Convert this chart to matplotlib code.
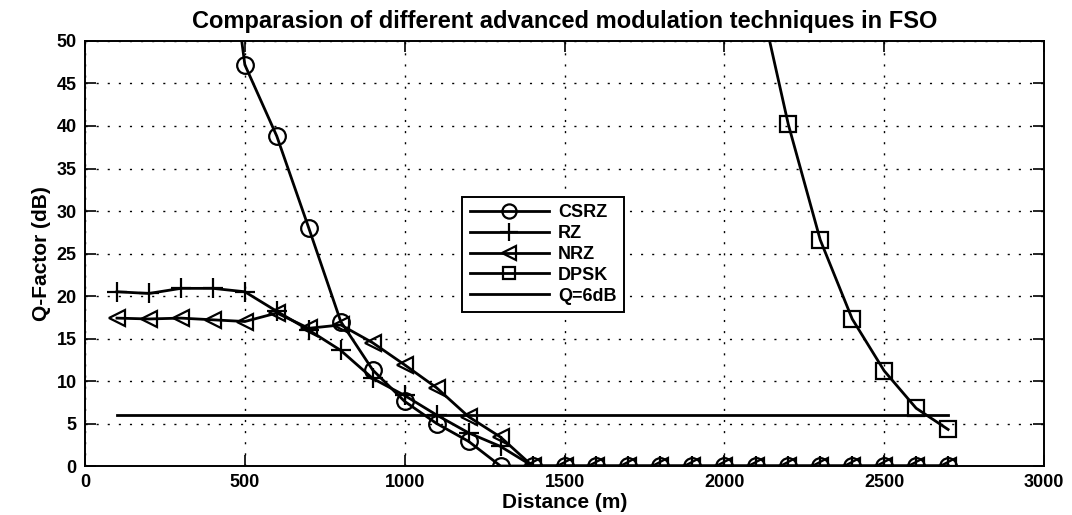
import numpy as np
import matplotlib.pyplot as plt

# Distances (m)
dist_csrz = [100, 200, 300, 400, 500, 600, 700, 800, 900, 1000, 1100, 1200, 1300,
             1400, 1500, 1600, 1700, 1800, 1900, 2000, 2100, 2200, 2300, 2400, 2500, 2600, 2700]
q_csrz = [130, 110, 95, 76, 47.2, 38.8, 28.0, 17.0, 11.3, 7.6, 5.0, 2.9, 0.0,
          0, 0, 0, 0, 0, 0, 0, 0, 0, 0, 0, 0, 0, 0]

dist_rz = [100, 200, 300, 400, 500, 600, 700, 800, 900, 1000, 1100, 1200, 1300,
           1400, 1500, 1600, 1700, 1800, 1900, 2000, 2100, 2200, 2300, 2400, 2500, 2600, 2700]
q_rz = [20.5, 20.3, 20.9, 20.9, 20.5, 18.2, 16.0, 13.6, 10.3, 8.3, 6.0, 3.9, 2.3,
        0, 0, 0, 0, 0, 0, 0, 0, 0, 0, 0, 0, 0, 0]

dist_nrz = dist_rz
q_nrz = [17.4, 17.3, 17.4, 17.2, 17.0, 18.0, 16.2, 16.6, 14.5, 11.9, 9.2, 5.8, 3.4,
         0, 0, 0, 0, 0, 0, 0, 0, 0, 0, 0, 0, 0, 0]

dist_dpsk = [2000, 2100, 2200, 2300, 2400, 2500, 2600, 2700]
q_dpsk = [78, 57, 40.2, 26.6, 17.3, 11.2, 6.8, 4.3]

dist_q6 = [100, 2700]
q_q6 = [6, 6]

plt.rcParams['font.family'] = ['Liberation Sans', 'DejaVu Sans']
plt.rcParams['font.weight'] = 'bold'

fig = plt.figure(figsize=(10.72, 5.15), dpi=100)
ax = fig.add_axes([0.0793, 0.0951, 0.8946, 0.8253])

mk = dict(color='black', markerfacecolor='none', markeredgecolor='black',
          markersize=12, markeredgewidth=1.6, linewidth=2.0)
ax.plot(dist_csrz, q_csrz, marker='o', label='CSRZ', **mk)
ax.plot(dist_rz, q_rz, marker='+', label='RZ', **{**mk, 'markersize': 15})
ax.plot(dist_nrz, q_nrz, marker='<', label='NRZ', **mk)
ax.plot(dist_dpsk, q_dpsk, marker='s', label='DPSK', **{**mk, 'markersize': 11})
ax.plot(dist_q6, q_q6, color='black', linewidth=2.0, label='Q=6dB')

ax.set_xlim(0, 3000)
ax.set_ylim(0, 50)
ax.set_xticks(np.arange(0, 3001, 500))
ax.set_yticks(np.arange(0, 51, 5))
ax.grid(True, linestyle=(0, (1.5, 6.5)), color='black', linewidth=1.0)
ax.tick_params(direction='in', length=8, labelsize=13, width=1.2, top=True, right=True,
               labeltop=False, labelright=False, pad=6)
for lab in ax.get_xticklabels() + ax.get_yticklabels():
    lab.set_fontweight('bold')
for s in ax.spines.values():
    s.set_linewidth(1.4)

ax.set_xlabel('Distance (m)', fontsize=15, fontweight='bold', labelpad=1)
ax.set_ylabel('Q-Factor (dB)', fontsize=15, fontweight='bold', labelpad=4)
ax.set_title('Comparasion of different advanced modulation techniques in FSO',
             fontsize=17, fontweight='bold', pad=9)

leg = ax.legend(loc='upper left', bbox_to_anchor=(0.384, 0.655), fontsize=13,
                frameon=True, fancybox=False, edgecolor='black', framealpha=1,
                handlelength=4.4, borderpad=0.4, labelspacing=0.22, handletextpad=0.5,
                markerscale=0.85)
leg.get_frame().set_linewidth(1.4)
for t in leg.get_texts():
    t.set_fontweight('bold')

fig.savefig('out.png', dpi=100)
